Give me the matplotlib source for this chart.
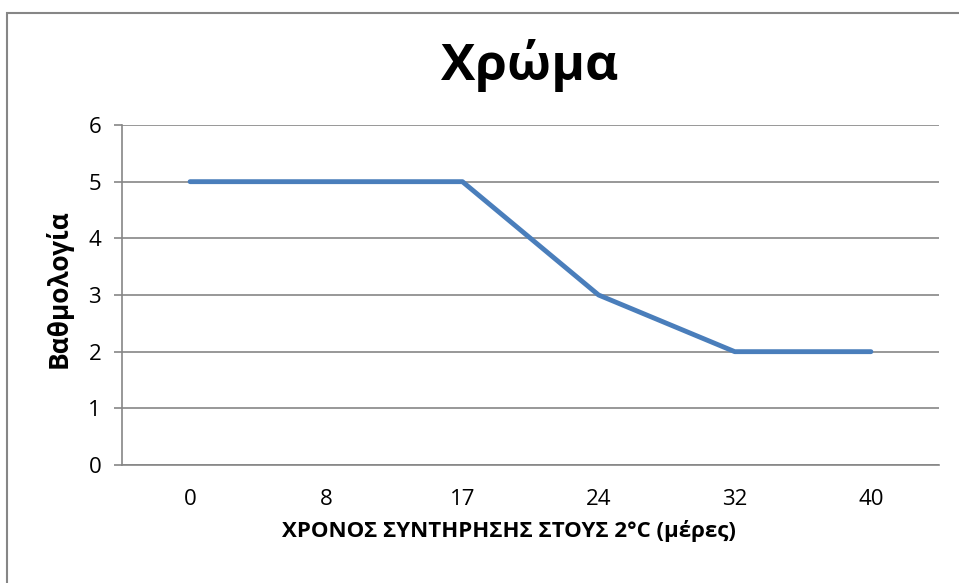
import matplotlib.pyplot as plt
from matplotlib.patches import Rectangle

plt.rcParams['font.family'] = ['Open Sans', 'DejaVu Sans']

days = ['0', '8', '17', '24', '32', '40']
score = [5, 5, 5, 3, 2, 2]

fig = plt.figure(figsize=(9.59, 5.83), dpi=100)
fig.patch.set_facecolor('white')

# outer chart frame (runs off the right and bottom edges)
fig.patches.append(Rectangle((7 / 959, -0.1), 1.2, 1 - 13 / 583 + 0.1,
                             transform=fig.transFigure, fill=False,
                             edgecolor='#868686', linewidth=1.5))

ax = fig.add_axes([122 / 959, 1 - 465 / 583, 817 / 959, 340 / 583])
x = range(len(days))
ax.plot(x, score, color='#4A7EBB', linewidth=3.5, solid_capstyle='round', zorder=3)

ax.set_xlim(-0.5, len(days) - 0.5)
ax.set_ylim(0, 6)
ax.set_xticks(list(x))
ax.set_xticklabels(days)
ax.set_yticks(range(0, 7))

ax.grid(axis='y', color='#868686', linewidth=1.2)
ax.set_axisbelow(True)
for s in ['top', 'right']:
    ax.spines[s].set_visible(False)
ax.spines['left'].set_color('#868686')
ax.spines['bottom'].set_color('#868686')
ax.spines['left'].set_linewidth(1.2)
ax.spines['bottom'].set_linewidth(1.2)

ax.tick_params(axis='x', length=0, labelsize=16, pad=17)
ax.tick_params(axis='y', length=6, width=1.2, color='#868686', labelsize=16, pad=9)

ax.set_xlabel('ΧΡΟΝΟΣ ΣΥΝΤΗΡΗΣΗΣ ΣΤΟΥΣ 2°C (μέρες)', fontsize=16,
              fontweight='bold')
ax.xaxis.set_label_coords(0.474, -0.163)
ax.set_ylabel('Βαθμολογία', fontsize=19, fontweight='bold')
ax.yaxis.set_label_coords(-0.06, 0.52)

fig.text(530 / 959, 1 - 65 / 583, 'Χρώμα', fontsize=37, fontweight='bold',
         ha='center', va='center')

fig.savefig('out.png', dpi=100)
